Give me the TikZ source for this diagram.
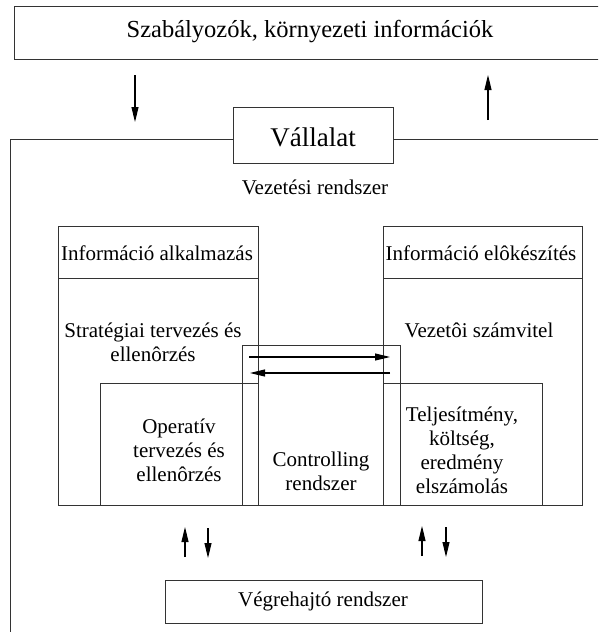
\documentclass[tikz,border=0pt]{standalone}
\usepackage{fontspec}
\setmainfont{Liberation Serif}[Ligatures=TeX]
\newfontfamily\timesfont{Liberation Serif}
\usetikzlibrary{arrows.meta}

\begin{document}
\begin{tikzpicture}[x=1pt, y=-1pt, >={Triangle[length=15pt,width=7pt]},
    box/.style={draw=black!80, line width=1pt},
    txt/.style={font=\timesfont\fontsize{21}{24}\selectfont, align=center, inner sep=0pt},
    flow/.style={->, line width=1.1pt}]
  \useasboundingbox (0,0) rectangle (598,632);
  \clip (0,0) rectangle (598,632);
  % environment (regulators) box
  \draw[box] (14,6) rectangle (610,59);
  \node[txt, font=\timesfont\fontsize{24.5}{27}\selectfont] (env) at (310,32) {Szabályozók, környezeti információk};
  % arrows between environment and company
  \coordinate (inTop) at (135,75);
  \coordinate (inBot) at (135,122);
  \coordinate (outBot) at (488,120);
  \coordinate (outTop) at (488,75);
  \draw[flow] (inTop) -- (inBot);
  \draw[flow] (outBot) -- (outTop);
  % company frame with its title box
  \draw[box] (610,139) -- (10,139) -- (10,640);
  \draw[box, fill=white] (233,107) rectangle (393,163);
  \node[txt, font=\timesfont\fontsize{27}{30}\selectfont] (comp) at (313,137) {Vállalat};
  \node[txt] (mgmt) at (315,187) {Vezetési rendszer};
  % information use (left column)
  \draw[box] (58,226) rectangle (258,505);
  \draw[box] (58,278) -- (258,278);
  \node[txt] (infoUse) at (157,253) {Információ alkalmazás};
  \node[txt] (strat) at (153,342) {Stratégiai tervezés és\\ellenôrzés};
  \draw[box] (100,383) rectangle (258,505);
  \node[txt] (oper) at (179,450) {Operatív\\tervezés és\\ellenôrzés};
  % information preparation (right column)
  \draw[box] (383,226) rectangle (582,505);
  \draw[box] (383,278) -- (582,278);
  \node[txt] (infoPrep) at (481,253) {Információ elôkészítés};
  \node[txt] (acct) at (479,330) {Vezetôi számvitel};
  \draw[box] (383,383) rectangle (542,505);
  \node[txt] (perf) at (462,450) {Teljesítmény,\\költség,\\eredmény\\elszámolás};
  % controlling in the middle
  \draw[box] (242,345) rectangle (400,505);
  \node[txt] (ctrl) at (321,471) {Controlling\\rendszer};
  \coordinate (ctrlL1) at (249,357);
  \coordinate (ctrlR1) at (390,357);
  \coordinate (ctrlR2) at (390,373);
  \coordinate (ctrlL2) at (250,373);
  \draw[flow] (ctrlL1) -- (ctrlR1);
  \draw[flow] (ctrlR2) -- (ctrlL2);
  % arrows to and from the executing system
  \coordinate (exA1) at (185,557);
  \coordinate (exA2) at (185,527);
  \coordinate (exB1) at (208,528);
  \coordinate (exB2) at (208,558);
  \coordinate (exC1) at (422,556);
  \coordinate (exC2) at (422,526);
  \coordinate (exD1) at (446,527);
  \coordinate (exD2) at (446,557);
  \draw[flow] (exA1) -- (exA2);
  \draw[flow] (exB1) -- (exB2);
  \draw[flow] (exC1) -- (exC2);
  \draw[flow] (exD1) -- (exD2);
  % executing system
  \draw[box] (165,580) rectangle (482,623);
  \node[txt] (exec) at (323,601) {Végrehajtó rendszer};
\end{tikzpicture}
\end{document}
